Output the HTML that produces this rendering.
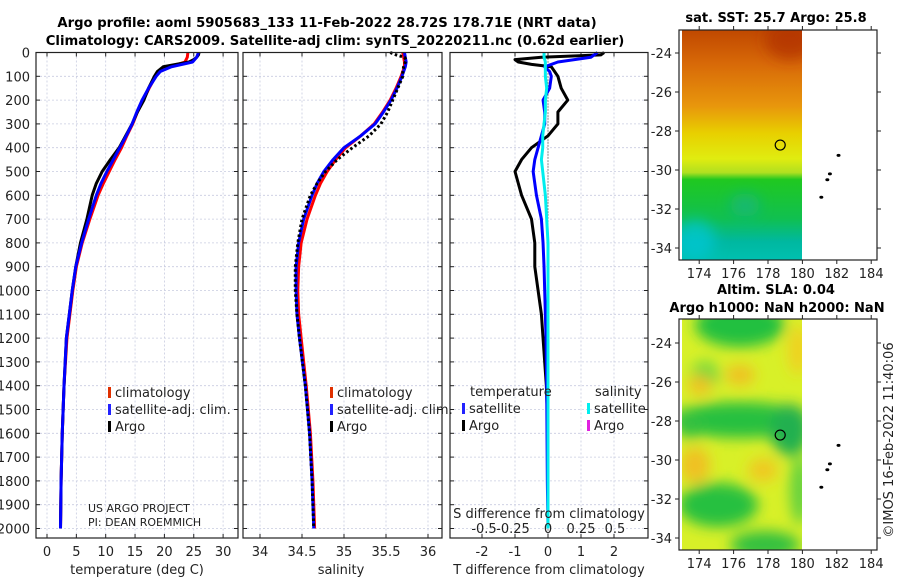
<!DOCTYPE html>
<html><head><meta charset="utf-8"><style>
html,body{margin:0;padding:0;background:#fff;}
svg{display:block;font-family:"DejaVu Sans","Liberation Sans",sans-serif;}
</style></head><body>
<svg id="fig" width="900" height="580" viewBox="0 0 900 580" xmlns="http://www.w3.org/2000/svg">
<defs>
<linearGradient id="sstGrad" x1="0" y1="0" x2="0" y2="1">
<stop offset="0" stop-color="#c04800"/><stop offset="0.15" stop-color="#d86a08"/>
<stop offset="0.33" stop-color="#e8960c"/><stop offset="0.45" stop-color="#e8d000"/>
<stop offset="0.56" stop-color="#e0ec10"/><stop offset="0.62" stop-color="#b0e020"/>
<stop offset="0.65" stop-color="#20c820"/><stop offset="0.82" stop-color="#10c050"/>
<stop offset="0.92" stop-color="#00b8a0"/><stop offset="1" stop-color="#00c0b0"/>
</linearGradient>
<filter id="blur8" x="-50%" y="-50%" width="200%" height="200%"><feGaussianBlur stdDeviation="7"/></filter>
<clipPath id="clipSst"><rect x="682" y="30" width="120" height="230"/></clipPath>
<clipPath id="clipSla"><rect x="682" y="319" width="120" height="231"/></clipPath>
</defs>
<g id="root"></g>
</svg>
<script>
// ---------- data ----------
const depthArgo = [0,10,20,30,40,50,60,80,100,150,200,250,300,350,400,450,500,550,600,700,800,900,1000,1100,1200,1400,1600,1800,2000];
const tempArgo  = [25.9,25.8,25.5,25.0,24.2,22.0,19.8,18.8,18.3,17.3,16.5,15.4,14.5,13.4,12.3,10.8,9.4,8.4,7.7,6.8,5.7,4.9,4.3,3.8,3.3,2.9,2.6,2.4,2.3];
const salArgo   = [35.55,35.62,35.72,35.74,35.73,35.72,35.71,35.70,35.70,35.64,35.58,35.52,35.44,35.3,35.1,34.92,34.78,34.68,34.6,34.5,34.45,34.42,34.42,34.44,34.47,34.54,34.59,34.62,34.64];
const depthClim = [0,20,40,60,80,100,150,200,250,300,350,400,450,500,550,600,700,800,900,1000,1100,1200,1400,1600,1800,2000];
const tempClim  = [24.0,23.9,23.5,21.0,19.2,18.5,17.4,16.4,15.4,14.6,13.6,12.7,11.6,10.6,9.6,8.7,7.3,6.0,5.0,4.4,3.9,3.4,2.9,2.6,2.4,2.3];
const tempSat   = [25.8,25.5,24.8,21.2,19.3,18.6,17.3,16.2,15.3,14.5,13.5,12.4,11.3,10.2,9.2,8.4,7.1,5.9,4.9,4.3,3.8,3.3,2.9,2.6,2.4,2.3];
const salClim   = [35.70,35.71,35.72,35.72,35.70,35.68,35.62,35.55,35.46,35.36,35.2,35.02,34.9,34.8,34.72,34.66,34.56,34.49,34.46,34.45,34.46,34.49,34.55,34.6,34.63,34.65];
const salSat    = [35.72,35.73,35.74,35.73,35.71,35.69,35.63,35.56,35.47,35.37,35.2,35.0,34.87,34.76,34.68,34.62,34.52,34.46,34.43,34.43,34.44,34.47,34.54,34.59,34.62,34.64];
const dTArgo    = [1.7,1.6,-0.2,-1.0,-0.9,-0.5,0.1,0.2,0.3,0.4,0.6,0.3,0.3,0.0,-0.5,-0.8,-1.0,-0.9,-0.8,-0.5,-0.4,-0.4,-0.3,-0.2,-0.15,-0.05,0.0,0.0,0.0];
const dTSat     = [1.5,1.3,0.3,-0.1,0.05,0.1,0.05,-0.15,-0.1,-0.1,-0.2,-0.3,-0.4,-0.45,-0.4,-0.35,-0.2,-0.15,-0.12,-0.1,-0.08,-0.06,-0.04,-0.03,-0.02,0.0];
const dSSat     = [-0.03,-0.03,-0.02,-0.02,-0.02,-0.02,-0.01,-0.02,-0.02,-0.03,-0.04,-0.04,-0.05,-0.04,-0.03,-0.02,-0.01,0.0,0.0,0.0,0.0,0.0,0.0,0.0,0.0,0.0];
const depthTicks = [0,100,200,300,400,500,600,700,800,900,1000,1100,1200,1300,1400,1500,1600,1700,1800,1900,2000];
const tempTicks = [0,5,10,15,20,25,30];
const salTicks = [34,34.5,35,35.5,36];
const dTTicks = [-2,-1,0,1,2];
const dSTicks = [-0.5,-0.25,0,0.25,0.5];
const dSTickLabels = ["-0.5","-0.25","0","0.25","0.5"];
const latTicks = [-24,-26,-28,-30,-32,-34];
const lonTicks = [174,176,178,180,182,184];
const floatPos = [178.71,-28.72];
const islands = [[182.1,-29.25],[181.6,-30.2],[181.45,-30.5],[181.1,-31.4]];

// ---------- helpers ----------
const NS="http://www.w3.org/2000/svg";
const root=document.getElementById('root');
function mk(tag,attrs,parent){const e=document.createElementNS(NS,tag);for(const k in attrs)e.setAttribute(k,attrs[k]);(parent||root).appendChild(e);return e;}
function txt(s,x,y,attrs,parent){const t=mk('text',Object.assign({x:x,y:y,'font-size':13,fill:'#222'},attrs||{}),parent);t.textContent=s;return t;}
const Y0=52.5, YS=0.238;
function yD(d){return Y0+d*YS;}
const xT=v=>47+v*5.87;
const xS=v=>260+(v-34)*84;
const xDT=v=>548+v*33;
const xDS=v=>548+v*132;
const xLon=v=>682+(v-173)*17.2;
const yLat1=v=>53+(-24-v)*19.5;
const yLat2=v=>343+(-24-v)*19.5;

function panel(name,x0,x1,xTicks,xf){
  const g=mk('g',{});
  
  
  depthTicks.forEach(d=>mk('line',{x1:x0,x2:x1,y1:yD(d),y2:yD(d),stroke:'#c8cce0','stroke-width':0.8,'stroke-dasharray':'2,2'},g));
  xTicks.forEach(v=>{mk('line',{x1:xf(v),x2:xf(v),y1:Y0,y2:538,stroke:'#c8cce0','stroke-width':0.8,'stroke-dasharray':'2,2'},g);
    mk('line',{x1:xf(v),x2:xf(v),y1:538,y2:534,stroke:'#222'},g);mk('line',{x1:xf(v),x2:xf(v),y1:Y0,y2:Y0+4,stroke:'#222'},g);});
  depthTicks.forEach(d=>{mk('line',{x1:x0,x2:x0+4,y1:yD(d),y2:yD(d),stroke:'#222'},g);mk('line',{x1:x1,x2:x1-4,y1:yD(d),y2:yD(d),stroke:'#222'},g);});
  return g;
}
function frame(x0,x1,g){mk('rect',{x:x0,y:Y0,width:x1-x0,height:538-Y0,fill:'none',stroke:'#222','stroke-width':1.2},g);}
function line(name,depths,vals,xf,color,w,dash,parent){
  const p=mk('polyline',{points:depths.map((d,i)=>xf(vals[i])+','+yD(d)).join(' '),fill:'none',stroke:color,'stroke-width':w,'stroke-linejoin':'round'},parent);
  if(dash)p.setAttribute('stroke-dasharray',dash);
  
  
  return p;
}
function legend(items,x,y,parent){items.forEach((it,i)=>{mk('rect',{x:x,y:y+i*17-10,width:3,height:11,fill:it[1]},parent);txt(it[0],x+7,y+i*17,{},parent);});}

const t1=txt('Argo profile: aoml 5905683_133 11-Feb-2022 28.72S 178.71E (NRT data)',327,27,{'text-anchor':'middle','font-weight':'bold','font-size':13.2,fill:'#000'});

const t2=txt('Climatology: CARS2009. Satellite-adj clim: synTS_20220211.nc (0.62d earlier)',335,45,{'text-anchor':'middle','font-weight':'bold','font-size':13.2,fill:'#000'});


// panel 1
const p1=panel('temperature-panel',36,238,tempTicks,xT);
depthTicks.forEach(d=>txt(String(d),30,yD(d)+5,{'text-anchor':'end'},p1));
tempTicks.forEach(v=>txt(String(v),xT(v),556,{'text-anchor':'middle'},p1));
txt('temperature (deg C)',137,574,{'text-anchor':'middle'},p1);
line('temp-climatology',depthClim,tempClim,xT,'#f00',3,null,p1);
line('temp-argo',depthArgo,tempArgo,xT,'#000',3,null,p1);
line('temp-satellite-adj',depthClim,tempSat,xT,'#00f',3,null,p1);
legend([['climatology','#e03000'],['satellite-adj. clim.','#22f'],['Argo','#000']],108,397,p1);
txt('US ARGO PROJECT',88,512,{'font-size':11},p1);
txt('PI: DEAN ROEMMICH',88,526,{'font-size':11},p1);
frame(36,238,p1);

// panel 2
const p2=panel('salinity-panel',243,442,salTicks,xS);
salTicks.forEach(v=>txt(String(v),xS(v),556,{'text-anchor':'middle'},p2));
txt('salinity',341,574,{'text-anchor':'middle'},p2);
line('sal-climatology',depthClim,salClim,xS,'#f00',3,null,p2);
line('sal-satellite-adj',depthClim,salSat,xS,'#00f',3,null,p2);
line('sal-argo',depthArgo,salArgo,xS,'#000',3,'2.5,2.5',p2);
legend([['climatology','#e03000'],['satellite-adj. clim.','#22f'],['Argo','#000']],330,397,p2);
frame(243,442,p2);

// panel 3
const p3=panel('difference-panel',450,648,dTTicks,xDT);
dTTicks.forEach(v=>txt(String(v),xDT(v),556,{'text-anchor':'middle'},p3));
txt('T difference from climatology',549,574,{'text-anchor':'middle'},p3);
mk('line',{x1:xDT(0),x2:xDT(0),y1:Y0,y2:538,stroke:'#333','stroke-width':1,'stroke-dasharray':'1,2'},p3);
line('dT-argo',depthArgo,dTArgo,xDT,'#000',3,null,p3);
line('dT-satellite',depthClim,dTSat,xDT,'#00f',3,null,p3);
line('dS-satellite',depthClim,dSSat,xDS,'#0ee',3,null,p3);
txt('temperature',470,396,{},p3);txt('salinity',595,396,{},p3);
legend([['satellite','#22f'],['Argo','#000']],462,413,p3);
legend([['satellite','#0ee'],['Argo','#e020e0']],587,413,p3);
txt('S difference from climatology',549,518,{'text-anchor':'middle'},p3);
dSTicks.forEach((v,i)=>txt(dSTickLabels[i],[484,513,548,581,615][i],533,{'text-anchor':'middle'},p3));
frame(450,648,p3);

function mapAxes(name,yTop,yBot,yLat,g){
  mk('rect',{x:679,y:yTop,width:198,height:yBot-yTop,fill:'none',stroke:'#222','stroke-width':1.2},g);
  latTicks.forEach(v=>{const y=yLat(v);mk('line',{x1:679,x2:675,y1:y,y2:y,stroke:'#222'},g);mk('line',{x1:877,x2:881,y1:y,y2:y,stroke:'#222'},g);txt(String(v),672,y+5,{'text-anchor':'end'},g);});
  lonTicks.forEach(v=>{const x=xLon(v);mk('line',{x1:x,x2:x,y1:yBot,y2:yBot+4,stroke:'#222'},g);mk('line',{x1:x,x2:x,y1:yTop,y2:yTop-4,stroke:'#222'},g);txt(String(v),x,yBot+18,{'text-anchor':'middle'},g);});
  islands.forEach(p=>mk('ellipse',{cx:xLon(p[0]),cy:yLat(p[1]),rx:2,ry:1.5,fill:'#000'},g));
  mk('circle',{cx:xLon(floatPos[0]),cy:yLat(floatPos[1]),r:5,fill:'none',stroke:'#000','stroke-width':1.2},g);
}
const m1=mk('g',{});

mk('rect',{x:682,y:30,width:120,height:230,fill:'url(#sstGrad)'},m1);
const sstBlobs=mk('g',{'clip-path':'url(#clipSst)',filter:'url(#blur8)'},m1);
mk('ellipse',{cx:790,cy:40,rx:25,ry:20,fill:'#b03000',opacity:0.7},sstBlobs);
mk('ellipse',{cx:695,cy:240,rx:20,ry:20,fill:'#00c8d8',opacity:0.7},sstBlobs);
mk('ellipse',{cx:745,cy:205,rx:15,ry:12,fill:'#10b0a0',opacity:0.5},sstBlobs);
txt('sat. SST: 25.7 Argo: 25.8',776,22,{'text-anchor':'middle','font-weight':'bold','font-size':13,fill:'#000'});
mapAxes('sst-map',30,260,yLat1,m1);

const m2=mk('g',{});

mk('rect',{x:682,y:319,width:120,height:231,fill:'#d8f028'},m2);
const sb=mk('g',{'clip-path':'url(#clipSla)',filter:'url(#blur8)'},m2);
[[740,325,45,22,'#20c040'],[740,420,70,18,'#28c040'],[790,430,20,26,'#20b050'],[718,505,40,22,'#28c040'],[765,545,35,14,'#30c040'],[800,490,10,35,'#60d040'],[705,375,14,14,'#70d840'],[690,425,14,14,'#30c040'],
 [700,385,12,10,'#f0c020'],[740,375,15,10,'#f0c020'],[695,465,15,18,'#f0c020'],[763,470,15,12,'#f0c820'],[798,350,10,25,'#f0d020']].forEach(b=>mk('ellipse',{cx:b[0],cy:b[1],rx:b[2],ry:b[3],fill:b[4]},sb));
txt('Altim. SLA: 0.04',776,294,{'text-anchor':'middle','font-weight':'bold','font-size':13,fill:'#000'});
txt('Argo h1000: NaN h2000: NaN',777,312,{'text-anchor':'middle','font-weight':'bold','font-size':13,fill:'#000'});
mapAxes('sla-map',319,550,yLat2,m2);

const cr=txt('©IMOS 16-Feb-2022 11:40:06',0,0,{'text-anchor':'middle','transform':'translate(893,440) rotate(-90)','font-size':13});

</script>
</body></html>
